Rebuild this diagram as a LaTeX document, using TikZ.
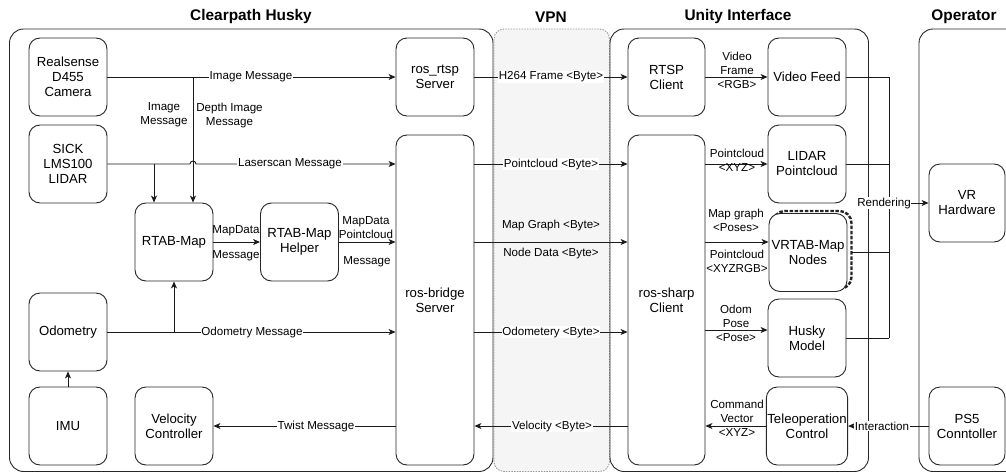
\documentclass[tikz,border=0pt]{standalone}
\usepackage{fontspec}
\setmainfont{Liberation Sans}
\usetikzlibrary{arrows.meta}
\definecolor{vpnfill}{HTML}{F5F5F5}
\definecolor{vpnline}{HTML}{9A9A9A}
\definecolor{edge}{HTML}{1A1A1A}
\tikzset{
  x=1pt, y=-1pt,
  box/.style={draw=black!85, line width=0.9pt, rounded corners=11pt, fill=white,
    minimum width=78pt, minimum height=78pt, align=center, inner sep=1pt,
    font=\fontsize{13.2}{15}\selectfont},
  tallbox/.style={box, minimum height=330pt},
  group/.style={draw=black!85, line width=0.9pt, rounded corners=14pt},
  vpngroup/.style={draw=vpnline, fill=vpnfill, line width=0.9pt, rounded corners=10pt,
    dash pattern=on 1.5pt off 1.2pt},
  title/.style={font=\fontsize{15.4}{17}\selectfont\bfseries},
  conn/.style={draw=edge, line width=0.9pt},
  arr/.style={conn, -{Stealth[length=7pt,width=6pt,inset=2pt]}},
  lbl/.style={fill=white, inner sep=0.6pt, align=center, font=\fontsize{11.6}{14}\selectfont},
  plbl/.style={inner sep=0pt, align=center, font=\fontsize{11.6}{14}\selectfont},
}
\begin{document}
\begin{tikzpicture}
\useasboundingbox (0,0) rectangle (1006,474);
% containers
\draw[group] (9.5,29) rectangle (493,471.5);
\draw[vpngroup] (494,29) rectangle (609.5,471.5);
\draw[group] (610,29) rectangle (868.5,471.5);
\begin{scope}
\clip (900,0) rectangle (1006,474);
\draw[group] (919,29) rectangle (1030,471.5);
\end{scope}
\node[title] (tHusky) at (251,17) {Clearpath Husky};
\node[title] (tVPN) at (551,17) {VPN};
\node[title] (tUnity) at (738,17) {Unity Interface};
\node[title] (tOp) at (964,17) {Operator};

% shadow of VRTAB-Map node
\draw[line width=2.4pt, black!85, rounded corners=12pt, dash pattern=on 3.5pt off 1.6pt]
  (773,211) rectangle (851.5,289);

% nodes
\node[box] (cam) at (68,77) {Realsense\\D455\\Camera};
\node[box] (lidar) at (68,164) {SICK\\LMS100\\LIDAR};
\node[box] (rtab) at (174,242) {RTAB-Map};
\node[box] (helper) at (299.5,242) {RTAB-Map\\Helper};
\node[box] (rtsp) at (435,77) {ros\_rtsp\\Server};
\node[tallbox] (bridge) at (435,300) {ros-bridge\\Server};
\node[box] (odom) at (68,332) {Odometry};
\node[box] (imu) at (68,426) {IMU};
\node[box] (vel) at (174,426) {Velocity\\Controller};
\node[box, minimum width=77pt] (rtspc) at (666.5,77) {RTSP\\Client};
\node[tallbox, minimum width=77pt] (sharp) at (666.5,300) {ros-sharp\\Client};
\node[box] (vfeed) at (807,77) {Video Feed};
\node[box] (lpc) at (807,164) {LIDAR\\Pointcloud};
\node[box] (vrtab) at (808,252.5) {VRTAB-Map\\Nodes};
\node[box] (husky) at (807,338) {Husky\\Model};
\node[box] (tele) at (807,426) {Teleoperation\\Control};
\node[box, minimum width=76pt] (vr) at (967,203) {VR\\Hardware};
\node[box, minimum width=76pt] (ps5) at (967,426) {PS5\\Conntoller};

% junction coordinates
\coordinate (j1) at (193,77);
\coordinate (j2) at (154,164);
\coordinate (j3) at (174,332);
\coordinate (hopL) at (190,164);
\coordinate (bus) at (889,203);
\path ([yshift=8pt]husky.west) coordinate (hkin);

% Husky side connectors
\draw[arr] (cam.east) -- (rtsp.west);
\draw[arr] (j1) -- (j1 |- rtab.north);
\draw[arr] (lidar.east) -- (hopL) arc[start angle=180, end angle=0, radius=3pt] -- (bridge.west |- lidar.east);
\draw[arr] (j2) -- (j2 |- rtab.north);
\draw[arr] (rtab.east) -- (helper.west);
\draw[arr] (helper.east) -- (helper.east -| bridge.west);
\draw[arr] (odom.east) -- (odom.east -| bridge.west);
\draw[arr] (j3) -- (rtab.south);
\draw[arr] (imu.north) -- (odom.south);
\draw[arr] (bridge.west |- vel.east) -- (vel.east);

% VPN connectors
\draw[arr] (rtsp.east) -- (rtspc.west);
\draw[arr] (bridge.east |- lpc.west) -- (sharp.west |- lpc.west);
\draw[arr] (bridge.east |- helper.east) -- (sharp.west |- helper.east);
\draw[arr] (bridge.east |- odom.east) -- (sharp.west |- odom.east);
\draw[arr] (sharp.west |- vel.east) -- (bridge.east |- vel.east);

% Unity connectors
\draw[arr] (rtspc.east) -- (vfeed.west);
\draw[arr] (sharp.east |- lpc.west) -- (lpc.west);
\draw[arr] (sharp.east |- helper.east) -- (vrtab.west |- helper.east);
\draw[arr] (sharp.east |- hkin) -- (hkin);
\draw[arr] (tele.west) -- (sharp.east |- tele.west);
\draw[arr] (ps5.west) -- (tele.east);

% rendering bus
\draw[conn] (vfeed.east) -- (vfeed.east -| bus);
\draw[conn] (lpc.east) -- (lpc.east -| bus);
\draw[conn] ([xshift=5pt]vrtab.east) -- (vrtab.east -| bus);
\draw[conn] (husky.east) -- (husky.east -| bus);
\draw[conn] (vfeed.east -| bus) -- (husky.east -| bus);
\draw[arr] (bus) -- (vr.west);

% labels
\node[lbl] (l1) at (251,77) {Image Message};
\node[plbl] (l2) at (164,115) {Image\\Message};
\node[plbl] (l3) at (229.5,115) {Depth Image\\Message};
\node[lbl] (l4) at (290,164) {Laserscan Message};
\node[plbl] (l5) at (236,231) {MapData};
\node[plbl] (l6) at (236,256) {Message};
\node[plbl] (l7) at (366,228) {MapData\\Pointcloud};
\node[plbl] (l8) at (367,262) {Message};
\node[lbl] (l9) at (252,332) {Odometry Message};
\node[lbl] (l10) at (316,426) {Twist Message};
\node[lbl] (l11) at (551,77) {H264 Frame <Byte>};
\node[lbl] (l12) at (551,164) {Pointcloud <Byte>};
\node[plbl] (l13) at (551,225) {Map Graph <Byte>};
\node[plbl] (l14) at (551,253) {Node Data <Byte>};
\node[lbl] (l15) at (551,332) {Odometery <Byte>};
\node[lbl] (l16) at (552,426) {Velocity <Byte>};
\node[plbl] (l17) at (737,70) {Video\\Frame\\<RGB>};
\node[plbl] (l18) at (737,160) {Pointcloud\\<XYZ>};
\node[plbl] (l19) at (736,220) {Map graph\\<Poses>};
\node[plbl] (l20) at (737,261) {Pointcloud\\<XYZRGB>};
\node[plbl] (l21) at (736,323) {Odom\\Pose\\<Pose>};
\node[plbl] (l22) at (737,418) {Command\\Vector\\<XYZ>};
\node[lbl] (l23) at (882,426) {Interaction};
\node[lbl] (l24) at (884,203) {Rendering};
\end{tikzpicture}
\end{document}
